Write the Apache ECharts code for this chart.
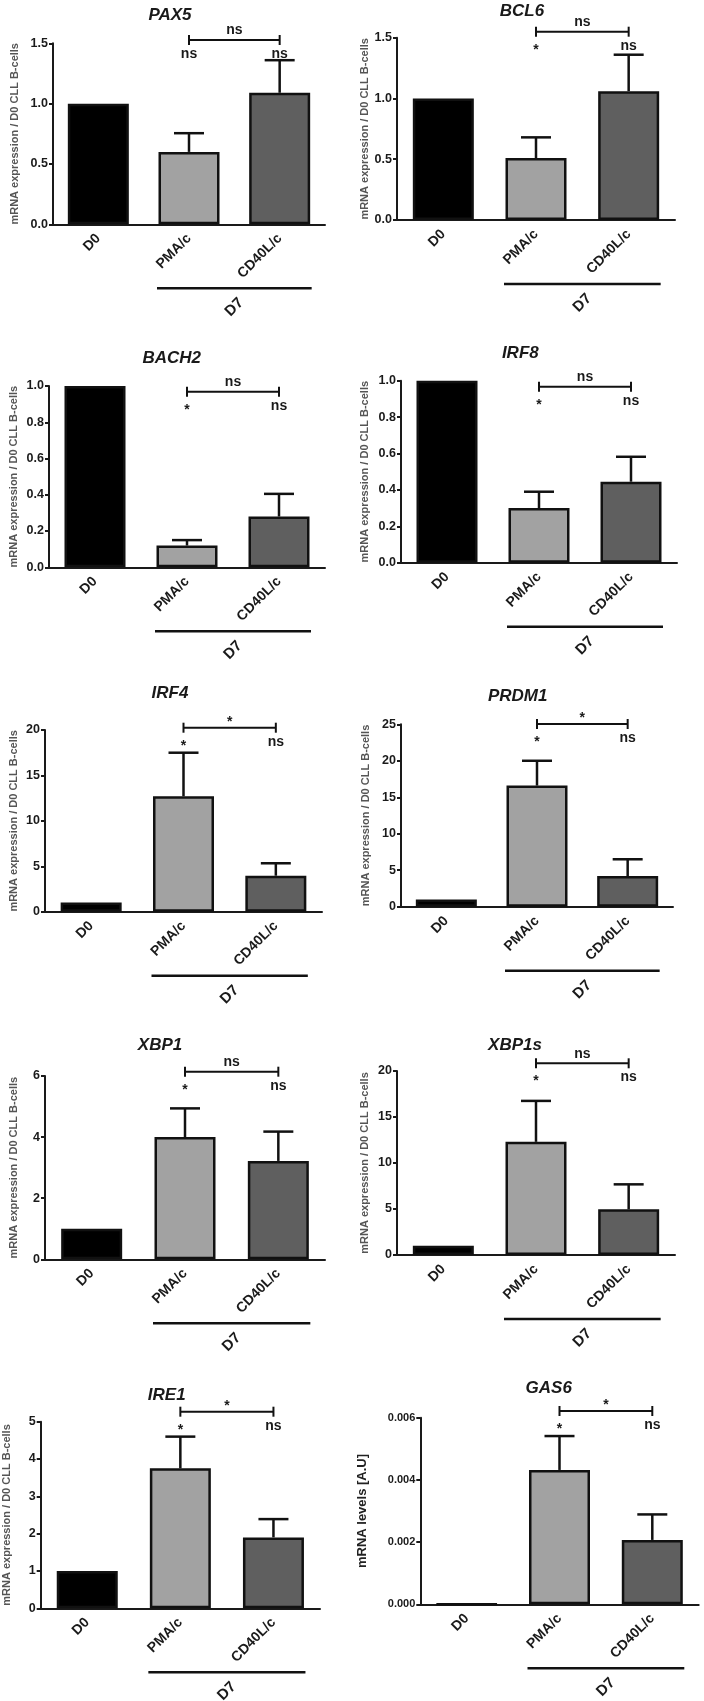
<!DOCTYPE html>
<html>
<head>
<meta charset="utf-8">
<script src="https://cdn.jsdelivr.net/npm/echarts/dist/echarts.min.js"></script>
<style>
html,body{margin:0;padding:0;background:#fff;}
#chart{width:704px;height:1701px;}
</style>
</head>
<body>
<div id="chart"></div>
<script>
// ---------------- data ----------------
const genes = ['PAX5','BCL6','BACH2','IRF8','IRF4','PRDM1','XBP1','XBP1s','IRE1','GAS6'];
const categories = ['D0','PMA/c','CD40L/c'];
const groupLabel = 'D7';
const meanD0    = [1, 1, 1, 1, 1, 1, 1, 1, 1, 0.00001];
const meanPMA   = [0.60, 0.51, 0.12, 0.30, 12.7, 16.6, 4.0, 12.3, 3.75, 0.00432];
const meanCD40L = [1.09, 1.06, 0.28, 0.445, 3.96, 4.2, 3.22, 4.96, 1.90, 0.00207];
const semPMA    = [0.155, 0.17, 0.03, 0.09, 4.8, 3.4, 0.94, 4.45, 0.85, 0.00109];
const semCD40L  = [0.27, 0.30, 0.125, 0.137, 1.37, 2.3, 0.96, 2.72, 0.49, 0.00082];
const sigPMA     = ['ns','*','*','*','*','*','*','*','*','*'];
const sigCD40L   = ['ns','ns','ns','ns','ns','ns','ns','ns','ns','ns'];
const sigBetween = ['ns','ns','ns','ns','*','*','ns','ns','*','*'];
const yMax      = [1.5, 1.5, 1.0, 1.0, 20, 25, 6, 20, 5, 0.006];
const yInterval = [0.5, 0.5, 0.2, 0.2, 5, 5, 2, 5, 1, 0.002];
const yDecimals = [1, 1, 1, 1, 0, 0, 0, 0, 0, 3];
const yNames = ['mRNA expression / D0 CLL B-cells','mRNA expression / D0 CLL B-cells','mRNA expression / D0 CLL B-cells',
  'mRNA expression / D0 CLL B-cells','mRNA expression / D0 CLL B-cells','mRNA expression / D0 CLL B-cells',
  'mRNA expression / D0 CLL B-cells','mRNA expression / D0 CLL B-cells','mRNA expression / D0 CLL B-cells',
  'mRNA levels [A.U]'];

// ---------------- layout ----------------
const gridBoxes = [
  [53, 43.3, 272, 181], [397, 37.7, 278, 182.3],
  [49, 386, 276, 181.3], [401, 380.7, 276, 182],
  [45, 730, 277, 181.7], [401, 724.3, 272, 182.4],
  [45, 1076, 280, 183.3], [397, 1071, 278, 184],
  [40.7, 1421.7, 279.3, 186.6], [420.3, 1417.7, 278.4, 186.6]
];
const titlePos = [[170,15],[522,11.7],[171.7,358.3],[520.3,353.3],[170,693.3],[517.7,696.7],[160,1045],[515,1045],[166.7,1395],[548.7,1388.3]];
const bracketOffset = [-3.3,-6,5.7,6,-2.3,-0.3,-4.3,-7.7,-10,-6.7];
const nameGaps = [32.5, 26, 30, 30.5, 26, 30, 26, 26.5, 28.5, 51];
const FONT = '"Liberation Sans", Arial, sans-serif';
const barColors = ['#000000','#a2a2a2','#5f5f5f'];
const INK = '#1a1a1a';

const grids = [], xAxes = [], yAxes = [], series = [], graphics = [];

genes.forEach((g, p) => {
  const b = gridBoxes[p];
  grids.push({left: b[0], top: b[1], width: b[2], height: b[3], containLabel: false, outerBoundsMode: 'none'});
  xAxes.push({
    type: 'category', gridIndex: p, data: categories,
    axisLine: {lineStyle: {color: INK, width: 2}},
    axisTick: {alignWithLabel: true, length: 5, lineStyle: {color: INK, width: 2}},
    axisLabel: {rotate: 45, margin: 12, fontSize: 14, fontWeight: 'bold', color: INK, fontFamily: FONT}
  });
  const isGas = p === 9;
  yAxes.push({
    type: 'value', gridIndex: p, min: 0, max: yMax[p], interval: yInterval[p],
    name: yNames[p], nameLocation: 'middle', nameRotate: 90, nameGap: nameGaps[p],
    nameTextStyle: {fontSize: isGas ? 13 : 11, fontWeight: 'bold', color: isGas ? '#222' : '#555', fontFamily: FONT},
    splitLine: {show: false},
    axisLine: {show: true, lineStyle: {color: INK, width: 2}},
    axisTick: {show: true, length: 4, lineStyle: {color: INK, width: 2}},
    axisLabel: {fontSize: isGas ? 11 : 12.5, fontWeight: 'bold', color: INK, margin: 5, fontFamily: FONT,
      formatter: v => Number(v).toFixed(yDecimals[p])}
  });
  const means = [meanD0[p], meanPMA[p], meanCD40L[p]];
  series.push({
    type: 'bar', xAxisIndex: p, yAxisIndex: p, barWidth: 61, animation: false,
    data: means.map((m, i) => ({value: m, itemStyle: {color: barColors[i], borderColor: '#111', borderWidth: 2.5}})),
    z: 2
  });
  // error bars (upper only)
  series.push({
    type: 'custom', xAxisIndex: p, yAxisIndex: p, animation: false, z: 3,
    data: [[1, meanPMA[p], semPMA[p]], [2, meanCD40L[p], semCD40L[p]]],
    renderItem: (params, api) => {
      const x = api.value(0), m = api.value(1), e = api.value(2);
      const lo = api.coord([x, m]), hi = api.coord([x, m + e]);
      const st = {stroke: '#111', lineWidth: 2.5};
      return {type: 'group', children: [
        {type: 'line', shape: {x1: lo[0], y1: lo[1], x2: hi[0], y2: hi[1]}, style: st},
        {type: 'line', shape: {x1: hi[0] - 15, y1: hi[1], x2: hi[0] + 15, y2: hi[1]}, style: st}
      ]};
    }
  });
  // annotations: significance bracket, labels, D7 group line
  series.push({
    type: 'custom', xAxisIndex: p, yAxisIndex: p, animation: false, z: 4, clip: false,
    data: [[0]],
    renderItem: (params, api) => {
      const a = api.coord([1, yMax[p]]), c = api.coord([2, yMax[p]]);
      const base = api.coord([1, 0])[1];
      const yb = a[1] + bracketOffset[p];
      const st = {stroke: '#111', lineWidth: 2};
      const txt = (s, x, y) => ({type: 'text', x: x, y: y + (s === '*' ? 3 : -1), style: {
        text: s, fontSize: 14, fontWeight: 'bold', fill: INK, fontFamily: FONT, align: 'center', verticalAlign: 'middle'}});
      const lineY = base + 64;
      const mid = (a[0] + c[0]) / 2;
      return {type: 'group', children: [
        {type: 'line', shape: {x1: a[0], y1: yb, x2: c[0], y2: yb}, style: st},
        {type: 'line', shape: {x1: a[0], y1: yb - 5, x2: a[0], y2: yb + 5}, style: st},
        {type: 'line', shape: {x1: c[0], y1: yb - 5, x2: c[0], y2: yb + 5}, style: st},
        txt(sigBetween[p], mid, yb - 8.5),
        txt(sigPMA[p], a[0], yb + 15),
        txt(sigCD40L[p], c[0], yb + 15),
        {type: 'line', shape: {x1: a[0] - 32, y1: lineY, x2: c[0] + 32, y2: lineY}, style: {stroke: '#111', lineWidth: 2.5}},
        {type: 'text', x: mid, y: lineY + 19, rotation: Math.PI / 4, style: {
          text: groupLabel, fontSize: 15, fontWeight: 'bold', fill: INK, fontFamily: FONT, align: 'center', verticalAlign: 'middle'}}
      ]};
    }
  });
  graphics.push({type: 'text', x: titlePos[p][0], y: titlePos[p][1], style: {
    text: genes[p], fontSize: 17, fontWeight: 'bold', fontStyle: 'italic', fill: INK, fontFamily: FONT,
    align: 'center', verticalAlign: 'middle'}});
});

const chart = echarts.init(document.getElementById('chart'), null, {renderer: 'canvas'});
chart.setOption({
  animation: false,
  backgroundColor: '#ffffff',
  grid: grids, xAxis: xAxes, yAxis: yAxes, series: series,
  graphic: graphics
});
</script>
</body>
</html>
